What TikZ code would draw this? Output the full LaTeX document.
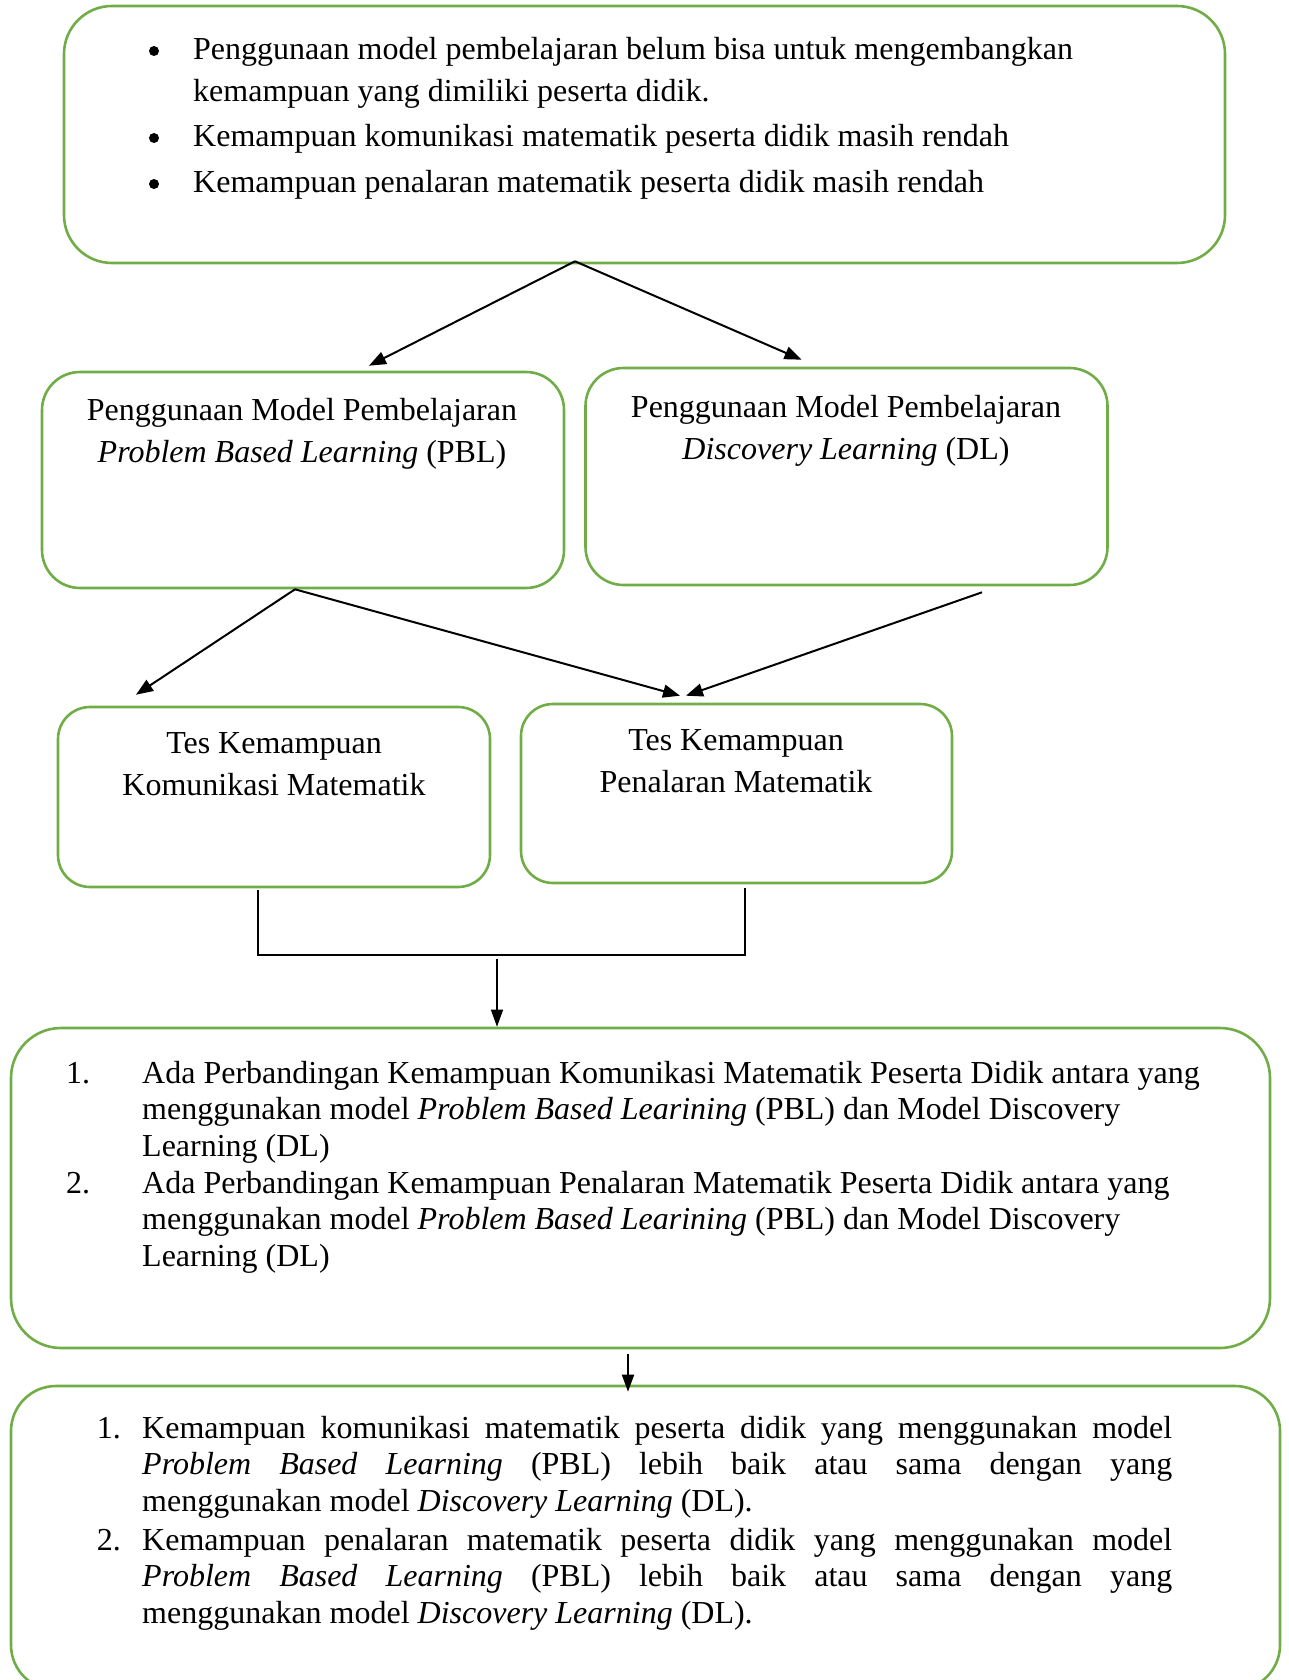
\documentclass[tikz,border=0pt]{standalone}
\usepackage{fontspec}
\setmainfont{Liberation Serif}
\usetikzlibrary{calc, positioning}
\usetikzlibrary{arrows.meta}
\definecolor{boxgreen}{RGB}{112,173,71}

\begin{document}
\begin{tikzpicture}[x=1pt, y=-1pt,
  box/.style={draw=boxgreen, line width=2.6pt, rounded corners=#1, inner sep=0pt},
  txt/.style={inner sep=0pt, font=\fontsize{32}{42}\selectfont},
  lst/.style={inner sep=0pt, align=left, font=\fontsize{32}{36.8}\selectfont},
  dot/.style={circle, fill=black, inner sep=0pt, minimum width=9pt, minimum height=10pt},
  arr/.style={-{Triangle[length=17pt, width=13pt]}, line width=2pt},
  arrthin/.style={-{Triangle[length=17pt, width=12pt]}, line width=1.4pt}]
\useasboundingbox (0,0) rectangle (1288,1680);
\node[box=48pt, minimum width=1161pt, minimum height=257pt] (top) at (644.5,134.5) {};
\node[box=38pt, minimum width=522pt, minimum height=216pt] (pbl) at (303,480) {};
\node[box=38pt, minimum width=522pt, minimum height=217pt] (dl) at (846.5,476.5) {};
\node[box=32pt, minimum width=432pt, minimum height=180pt] (tkom) at (274,797) {};
\node[box=32pt, minimum width=431pt, minimum height=179pt] (tnal) at (736.5,793.5) {};
\node[box=50pt, minimum width=1259pt, minimum height=320pt] (res) at (640.5,1188) {};
\node[box=45pt, minimum width=1269pt, minimum height=304pt] (hyp) at (645.5,1538) {};
\node[dot] (b1) at (154,51) {};
\node[dot] (b2) at (154,138) {};
\node[dot] (b3) at (154,184) {};
\node[txt, anchor=base west, align=left] (i1) at (193,102) {Penggunaan model pembelajaran belum bisa untuk mengembangkan\\kemampuan yang dimiliki peserta didik.};
\node[txt, anchor=base west] (i2) at (193,147) {Kemampuan komunikasi matematik peserta didik masih rendah};
\node[txt, anchor=base west] (i3) at (193,193) {Kemampuan penalaran matematik peserta didik masih rendah};
\node[txt, anchor=base, align=center] (pbltxt) at (302,462) {Penggunaan Model Pembelajaran\\\textit{Problem Based Learning} (PBL)};
\node[txt, anchor=base, align=center] (dltxt) at (846,459) {Penggunaan Model Pembelajaran\\\textit{Discovery Learning} (DL)};
\node[txt, anchor=base, align=center] (tkomtxt) at (274,795) {Tes Kemampuan\\Komunikasi Matematik};
\node[txt, anchor=base, align=center] (tnaltxt) at (736,792) {Tes Kemampuan\\Penalaran Matematik};
\node[lst, anchor=base west] (r1n) at (66,1083) {1.};
\node[lst, anchor=base west] (r1) at (142,1156.6) {Ada Perbandingan Kemampuan Komunikasi Matematik Peserta Didik antara yang\\menggunakan model \textit{Problem Based Learining} (PBL) dan Model Discovery\\Learning (DL)};
\node[lst, anchor=base west] (r2n) at (66,1193) {2.};
\node[lst, anchor=base west] (r2) at (142,1266.6) {Ada Perbandingan Kemampuan Penalaran Matematik Peserta Didik antara yang\\menggunakan model \textit{Problem Based Learining} (PBL) dan Model Discovery\\Learning (DL)};
\node[lst, anchor=base east] (h1n) at (121,1438) {1.};
\node[lst, anchor=base west] (h1) at (142,1511.6) {\makebox[1030pt][s]{Kemampuan komunikasi matematik peserta didik yang menggunakan model}\\\makebox[1030pt][s]{\textit{Problem Based Learning} (PBL) lebih baik atau sama dengan yang}\\menggunakan model \textit{Discovery Learning} (DL).};
\node[lst, anchor=base east] (h2n) at (121,1550) {2.};
\node[lst, anchor=base west] (h2) at (142,1623.6) {\makebox[1030pt][s]{Kemampuan penalaran matematik peserta didik yang menggunakan model}\\\makebox[1030pt][s]{\textit{Problem Based Learning} (PBL) lebih baik atau sama dengan yang}\\menggunakan model \textit{Discovery Learning} (DL).};
\draw[arr] ([xshift=-69.5pt, yshift=3pt]top.south) -- ([xshift=66pt, yshift=5pt]pbl.north);
\draw[arr] ([xshift=-69.5pt, yshift=3pt]top.south) -- ([xshift=-45pt, yshift=7pt]dl.north);
\draw[arr] ([xshift=-8pt]pbl.south) -- ([xshift=-138pt, yshift=11pt]tkom.north);
\draw[arr] ([xshift=-8pt]pbl.south) -- ([xshift=-56.5pt, yshift=7pt]tnal.north);
\draw[arr] ([xshift=135.5pt, yshift=-6pt]dl.south) -- ([xshift=-50.5pt, yshift=7pt]tnal.north);
\coordinate (bl) at (258,955);
\coordinate (br) at (745,955);
\coordinate (jn) at (497,959);
\draw[line width=1.1pt] ([xshift=-16pt, yshift=-2pt]tkom.south) -- (bl) -- (br) -- ([xshift=8.5pt, yshift=-4pt]tnal.south);
\draw[arrthin] (jn) -- ([xshift=-143.5pt]res.north);
\draw[arrthin, line width=2pt] ([xshift=-12.5pt, yshift=-5pt]res.south) -- ([xshift=-17.5pt, yshift=-7pt]hyp.north);
\end{tikzpicture}
\end{document}
